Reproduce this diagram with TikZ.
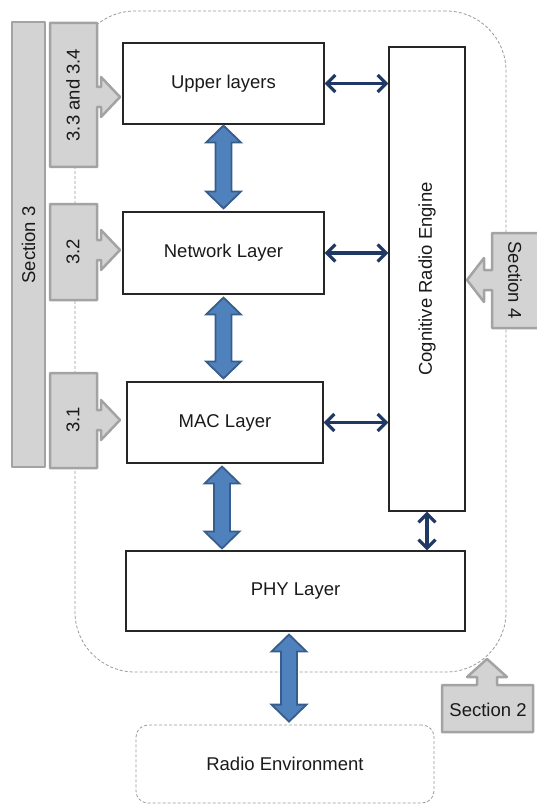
\documentclass[tikz,border=0pt]{standalone}
\usepackage{fontspec}
\setmainfont{Liberation Sans}
\usetikzlibrary{arrows.meta,calc}

\definecolor{calloutfill}{HTML}{D3D3D3}
\definecolor{calloutline}{HTML}{A3A3A3}
\definecolor{fatfill}{HTML}{4F81BD}
\definecolor{fatline}{HTML}{385D8A}
\definecolor{linkcol}{HTML}{1F3864}
\definecolor{dashcol}{HTML}{9A9A9A}
\definecolor{textcol}{HTML}{1A1A1A}

% Wide blue double arrow between two points on one vertical line
\newcommand\fatlink[2]{%
  \path let \p1=(#1), \p2=(#2) in [fatarrow]
    (\x1,\y1) -- ++(17.5pt,-17pt) -- ++(-9.5pt,0pt)
    -- ({\x1+8pt},{\y2+17pt}) -- ++(9.5pt,0pt) -- (\x1,\y2)
    -- ({\x1-17.5pt},{\y2+17pt}) -- ++(9.5pt,0pt)
    -- ({\x1-8pt},{\y1-17pt}) -- ++(-9.5pt,0pt) -- cycle;}

% Grey tab with an arrow to the right: left, top, right, bottom, arrow y
\newcommand\tabright[5]{%
  \path[callout] (#1,#2) -- (#3,#2) -- (#3,{#5-10}) -- ({#3+4},{#5-10})
    -- ({#3+4},{#5-20}) -- ({#3+23},#5) -- ({#3+4},{#5+20})
    -- ({#3+4},{#5+10}) -- (#3,{#5+10}) -- (#3,#4) -- (#1,#4) -- cycle;}

\tikzset{
  every node/.style={font=\fontsize{18.5}{21}\selectfont, text=textcol},
  layerbox/.style={draw=black!85, line width=1.1pt, fill=white, inner sep=0pt},
  dashbox/.style={draw=dashcol, line width=0.8pt, dash pattern=on 3pt off 2pt},
  fatarrow/.style={fill=fatfill, draw=fatline, line width=1.8pt, line join=miter},
  thinlink/.style={draw=linkcol, line width=3.2pt,
    {Straight Barb[length=8.5pt,width=17pt]}-{Straight Barb[length=8.5pt,width=17pt]}},
  callout/.style={fill=calloutfill, draw=calloutline, line width=2.5pt, line join=round},
}

\begin{document}
\begin{tikzpicture}[x=1pt, y=-1pt]
  \useasboundingbox (0,0) rectangle (536,805);

  % dashed frame of the protocol stack
  \node[dashbox, rounded corners=60pt, minimum width=431pt, minimum height=661pt,
        inner sep=0pt] (stack) at (290.5,341.5) {};

  % layer boxes
  \node[layerbox, minimum width=201pt, minimum height=81pt] (up)  at (223.5,83.5) {Upper layers};
  \node[layerbox, minimum width=201pt, minimum height=82pt] (net) at (223.5,253) {Network Layer};
  \node[layerbox, minimum width=196pt, minimum height=81pt] (mac) at (225,422.5) {MAC Layer};
  \node[layerbox, minimum width=76pt, minimum height=464pt] (cre) at (427,279) {};
  \node[rotate=90] (cretext) at (cre.center) {Cognitive Radio Engine};
  \node[layerbox, minimum width=339pt, minimum height=80pt] (phy) at (295.5,591) {PHY Layer};
  \node[dashbox, rounded corners=12pt, minimum width=298pt, minimum height=78pt]
        (radio) at (285,764) {Radio Environment};

  % links to the cognitive radio engine
  \draw[thinlink] (up.east)  -- (up.east -| cre.west);
  \draw[thinlink] (net.east) -- (net.east -| cre.west);
  \draw[thinlink] (mac.east) -- (mac.east -| cre.west);
  \draw[thinlink] (cre.south) -- (cre.south |- phy.north);

  % wide arrows between the layers
  \coordinate (upbot)  at ([yshift=-1pt]up.south);
  \coordinate (nettop) at ([yshift=3pt]net.north);
  \fatlink{upbot}{nettop}
  \coordinate (netbot) at ([yshift=-3pt]net.south);
  \coordinate (mactop) at ([yshift=3pt]net.south |- mac.north);
  \fatlink{netbot}{mactop}
  \coordinate (macbot) at ([xshift=-3pt,yshift=-3pt]mac.south);
  \coordinate (phytop) at ([yshift=2pt]macbot |- phy.north);
  \fatlink{macbot}{phytop}
  \coordinate (phybot) at ([xshift=4pt,yshift=-3pt]radio.north |- phy.south);
  \coordinate (radtop) at ([yshift=3pt]phybot |- radio.north);
  \fatlink{phybot}{radtop}

  % section callouts on the left
  \path[callout] (12,22) rectangle (45,467);
  \node[rotate=90] (sec3) at (28.5,245) {Section 3};
  \tabright{50}{23}{97}{167}{97}
  \node[rotate=90] (s34) at (73,95) {3.3 and 3.4};
  \tabright{50}{204}{97}{300}{250}
  \node[rotate=90] (s32) at (73,252) {3.2};
  \tabright{50}{373}{97}{468}{420}
  \node[rotate=90] (s31) at (73,420) {3.1};

  % section 4 callout on the right
  \path[callout] (545,233) -- (492,233) -- (492,270) -- (484,270) -- (484,258)
    -- (467,280) -- (484,302) -- (484,290) -- (492,290) -- (492,328) -- (545,328);
  \node[rotate=-90] (sec4) at (515,280) {Section 4};

  % section 2 callout below the frame
  \path[callout] (442,732) -- (442,685) -- (477,685) -- (477,677) -- (467,677)
    -- (487,659) -- (507,677) -- (497,677) -- (497,685) -- (533,685) -- (533,732) -- cycle;
  \node (sec2) at (488,710) {Section 2};
\end{tikzpicture}
\end{document}
